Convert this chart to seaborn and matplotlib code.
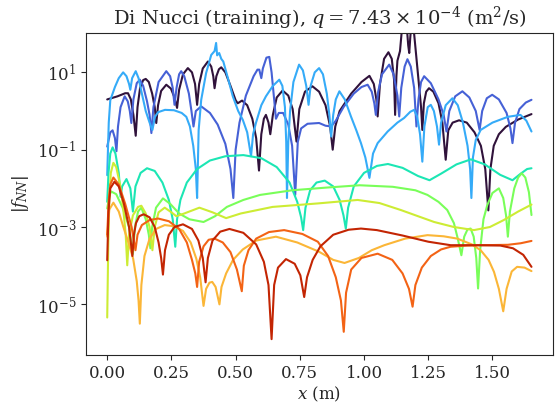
#%% Imports

import numpy as np
import pandas as pd
import matplotlib as mpl
import matplotlib.pyplot as plt
import seaborn as sns

#%% Data (x in m, log10 |f_NN|)

x_c0 = [0.000, 0.040, 0.070, 0.081, 0.092, 0.102, 0.111, 0.118, 0.128, 0.140, 0.150, 0.162, 0.175, 0.185,
        0.191, 0.198, 0.210, 0.230, 0.248, 0.262, 0.272, 0.280, 0.295, 0.314, 0.330, 0.342, 0.350, 0.358,
        0.372, 0.392, 0.405, 0.413, 0.418, 0.425, 0.435, 0.444, 0.460, 0.480, 0.500, 0.508, 0.525, 0.545,
        0.565, 0.580, 0.591, 0.600, 0.610, 0.618, 0.628, 0.635, 0.645, 0.660, 0.683, 0.705, 0.722, 0.737,
        0.748, 0.770, 0.799, 0.825, 0.850, 0.868, 0.878, 0.888, 0.905, 0.950, 0.990, 1.021, 1.038, 1.048,
        1.053, 1.062, 1.078, 1.095, 1.108, 1.117, 1.121, 1.126, 1.130, 1.140, 1.150, 1.165, 1.172, 1.176,
        1.180, 1.185, 1.195, 1.205, 1.215, 1.222, 1.227, 1.233, 1.242, 1.253, 1.270, 1.290, 1.305, 1.318,
        1.328, 1.345, 1.370, 1.400, 1.430, 1.455, 1.472, 1.484, 1.492, 1.505, 1.525, 1.552, 1.600, 1.652]
l_c0 = [0.30, 0.38, 0.46, 0.46, 0.30, -0.10, -0.64, 0.10, 0.60, 0.80, 0.83, 0.75, 0.45, 0.10,
        -0.31, 0.15, 0.52, 0.68, 0.58, 0.35, 0.08, 0.55, 0.95, 1.11, 1.00, 0.70, 0.16, 0.70,
        1.10, 1.28, 1.15, 0.90, 0.59, 0.90, 1.08, 1.13, 1.00, 0.65, 0.28, 0.20, 0.27, 0.15,
        -0.20, -0.70, -1.54, -0.60, -0.20, -0.10, -0.30, -0.60, -0.10, 0.35, 0.53, 0.40, 0.05, -0.79,
        0.05, 0.50, 0.64, 0.50, 0.15, -0.40, -1.00, -0.40, 0.00, 0.45, 0.75, 0.91, 0.70, 0.30,
        -0.14, 0.70, 1.35, 1.52, 1.35, 0.80, -0.10, 0.90, 1.30, 1.55, 2.30, 2.30, 1.70, 1.50,
        1.90, 2.30, 2.00, 1.30, 0.60, 0.10, -0.49, 0.20, 0.50, 0.59, 0.50, 0.20, -0.30, -1.26,
        -0.50, -0.30, -0.24, -0.30, -0.55, -0.90, -1.50, -2.57, -1.50, -0.90, -0.60, -0.41, -0.22, -0.08]

x_c1 = [0.000, 0.012, 0.021, 0.030, 0.036, 0.042, 0.052, 0.068, 0.080, 0.088, 0.094, 0.102, 0.115, 0.127,
        0.140, 0.155, 0.165, 0.172, 0.180, 0.200, 0.230, 0.245, 0.255, 0.262, 0.270, 0.280, 0.288, 0.300,
        0.318, 0.328, 0.336, 0.345, 0.366, 0.400, 0.430, 0.460, 0.480, 0.491, 0.500, 0.515, 0.540, 0.570,
        0.585, 0.592, 0.600, 0.606, 0.620, 0.631, 0.640, 0.650, 0.657, 0.668, 0.685, 0.705, 0.720, 0.732,
        0.742, 0.755, 0.780, 0.825, 0.850, 0.872, 0.890, 0.920, 0.960, 0.990, 1.014, 1.030, 1.040, 1.046,
        1.055, 1.070, 1.098, 1.115, 1.130, 1.137, 1.145, 1.158, 1.169, 1.182, 1.195, 1.204, 1.212, 1.222,
        1.234, 1.260, 1.290, 1.310, 1.321, 1.332, 1.355, 1.383, 1.410, 1.435, 1.450, 1.460, 1.478, 1.499,
        1.525, 1.555, 1.570, 1.578, 1.588, 1.605, 1.630, 1.652]
l_c1 = [-0.92, -0.55, -0.50, -0.70, -1.04, -0.40, 0.10, 0.38, 0.25, 0.00, -0.31, 0.30, 0.72, 0.81,
        0.65, 0.25, -0.10, -0.57, 0.10, 0.75, 1.03, 0.90, 0.60, 0.16, 0.60, 0.95, 1.03, 0.90,
        0.45, 0.00, -0.40, 0.00, 0.12, -0.05, -0.35, -0.85, -1.50, -2.25, -1.00, -0.30, 0.40, 0.90,
        1.07, 1.07, 0.85, 1.10, 1.38, 1.40, 1.00, 0.30, -0.20, -0.05, -0.05, -0.35, -0.90, -2.17,
        -0.80, -0.45, -0.33, -0.31, -0.38, -0.40, -0.25, 0.10, 0.45, 0.62, 0.68, 0.50, 0.20, -0.10,
        0.50, 0.95, 1.20, 0.95, 0.40, -0.14, 0.60, 1.15, 1.34, 1.15, 0.60, -0.40, 0.30, 0.75,
        0.90, 0.72, 0.30, -0.10, -0.53, 0.00, 0.38, 0.51, 0.35, 0.00, -0.49, 0.00, 0.33, 0.42,
        0.30, -0.05, -0.45, -0.83, -0.30, 0.05, 0.22, 0.29]

x_c2 = [0.000, 0.006, 0.012, 0.030, 0.045, 0.062, 0.075, 0.085, 0.090, 0.097, 0.111, 0.122, 0.135, 0.150,
        0.165, 0.176, 0.186, 0.198, 0.225, 0.260, 0.290, 0.308, 0.322, 0.335, 0.345, 0.350, 0.356, 0.366,
        0.385, 0.405, 0.418, 0.424, 0.428, 0.436, 0.444, 0.452, 0.470, 0.489, 0.510, 0.528, 0.545, 0.560,
        0.568, 0.579, 0.600, 0.618, 0.645, 0.670, 0.682, 0.692, 0.697, 0.700, 0.705, 0.712, 0.725, 0.747,
        0.762, 0.775, 0.784, 0.792, 0.808, 0.825, 0.840, 0.855, 0.865, 0.872, 0.880, 0.890, 0.904, 0.925,
        0.949, 0.970, 0.988, 1.005, 1.021, 1.035, 1.053, 1.092, 1.130, 1.156, 1.180, 1.195, 1.207, 1.218,
        1.227, 1.235, 1.248, 1.260, 1.272, 1.284, 1.292, 1.300, 1.318, 1.344, 1.365, 1.385, 1.403, 1.413,
        1.418, 1.424, 1.435, 1.454, 1.500, 1.560, 1.609, 1.632, 1.652]
l_c2 = [-1.66, -0.30, 0.28, 0.62, 0.85, 1.00, 0.90, 0.70, 0.55, 0.85, 1.03, 0.85, 0.45, 0.00,
        -0.30, -0.49, -0.15, -0.03, 0.03, 0.02, -0.05, -0.15, -0.40, -0.90, -1.50, -2.25, -0.50, 0.29,
        0.98, 1.45, 1.55, 1.76, 1.44, 1.50, 1.35, 1.28, 0.85, 0.38, 0.00, -0.23, -0.55, -1.17,
        -0.60, -0.31, 0.15, 0.38, 0.65, 0.81, 0.65, 0.10, -0.80, -2.25, -0.80, 0.00, 0.75, 1.20,
        1.05, 0.65, 0.16, 0.65, 1.00, 1.11, 0.95, 0.45, -0.10, -0.66, -0.10, 0.30, 0.51, 0.30,
        -0.14, -0.50, -0.83, -1.20, -1.73, -1.10, -0.83, -0.53, -0.30, -0.18, -0.02, 0.03, -0.15, -0.60,
        -1.31, -0.40, 0.10, 0.16, 0.00, -0.40, -0.87, -0.30, 0.15, 0.33, 0.15, -0.30, -0.90, -1.50,
        -2.25, -1.20, -0.75, -0.49, -0.30, -0.15, -0.10, -0.25, -0.53]

x_c3 = [0.000, 0.005, 0.012, 0.021, 0.032, 0.045, 0.052, 0.058, 0.075, 0.090, 0.100, 0.110, 0.130, 0.155,
        0.185, 0.215, 0.240, 0.255, 0.265, 0.272, 0.285, 0.310, 0.350, 0.400, 0.460, 0.530, 0.600, 0.660,
        0.710, 0.740, 0.755, 0.763, 0.772, 0.790, 0.815, 0.847, 0.880, 0.905, 0.920, 0.929, 0.938, 0.960,
        1.000, 1.050, 1.093, 1.150, 1.210, 1.255, 1.300, 1.360, 1.416, 1.470, 1.530, 1.578, 1.610, 1.635,
        1.652]
l_c3 = [-2.35, -1.60, -1.10, -0.94, -1.10, -1.60, -2.22, -1.95, -1.76, -2.00, -2.60, -1.95, -1.60, -1.48,
        -1.55, -1.85, -2.30, -2.80, -3.51, -2.80, -2.30, -1.85, -1.50, -1.28, -1.17, -1.14, -1.22, -1.45,
        -1.85, -2.35, -2.75, -3.08, -2.50, -2.05, -1.85, -1.80, -1.95, -2.30, -2.70, -3.04, -2.50, -1.95,
        -1.60, -1.42, -1.37, -1.47, -1.68, -1.79, -1.62, -1.38, -1.25, -1.38, -1.65, -1.79, -1.62, -1.50,
        -1.48]

x_c4 = [0.000, 0.008, 0.015, 0.035, 0.060, 0.085, 0.100, 0.108, 0.120, 0.133, 0.150, 0.162, 0.168, 0.175,
        0.190, 0.217, 0.245, 0.280, 0.320, 0.375, 0.420, 0.466, 0.530, 0.595, 0.720, 0.854, 0.983, 1.112,
        1.200, 1.247, 1.290, 1.324, 1.350, 1.365, 1.379, 1.390, 1.403, 1.415, 1.427, 1.437, 1.444, 1.452,
        1.465, 1.480, 1.500, 1.525, 1.542, 1.553, 1.560, 1.568, 1.585, 1.600, 1.614, 1.628, 1.642, 1.652]
l_c4 = [-2.52, -2.20, -2.08, -2.15, -2.50, -3.00, -3.70, -3.00, -2.60, -2.50, -2.80, -3.20, -3.55, -3.00,
        -2.50, -2.26, -2.40, -2.65, -2.80, -2.87, -2.72, -2.48, -2.30, -2.17, -2.05, -1.98, -1.92, -1.96,
        -2.05, -2.17, -2.35, -2.56, -2.90, -3.30, -3.73, -3.25, -3.06, -3.04, -3.25, -3.80, -4.59, -3.60,
        -2.80, -2.43, -2.12, -2.00, -2.25, -2.70, -3.25, -2.60, -2.00, -1.72, -1.61, -1.72, -2.10, -2.69]

x_c5 = [0.000, 0.004, 0.008, 0.014, 0.024, 0.035, 0.050, 0.062, 0.072, 0.078, 0.085, 0.100, 0.120, 0.133,
        0.150, 0.165, 0.176, 0.185, 0.200, 0.224, 0.250, 0.269, 0.300, 0.359, 0.410, 0.463, 0.520, 0.644,
        0.820, 0.975, 1.060, 1.143, 1.210, 1.273, 1.350, 1.428, 1.490, 1.544, 1.600, 1.652]
l_c5 = [-5.34, -3.50, -2.30, -1.60, -1.34, -1.45, -1.90, -2.50, -3.20, -3.99, -3.20, -2.70, -2.48, -2.45,
        -2.65, -3.00, -3.60, -3.00, -2.62, -2.50, -2.62, -2.72, -2.65, -2.50, -2.62, -2.77, -2.65, -2.48,
        -2.39, -2.30, -2.38, -2.56, -2.72, -2.87, -3.00, -3.08, -3.00, -2.82, -2.60, -2.42]

x_c6 = [0.000, 0.008, 0.024, 0.045, 0.062, 0.085, 0.101, 0.115, 0.122, 0.127, 0.133, 0.145, 0.165, 0.190,
        0.224, 0.260, 0.295, 0.325, 0.347, 0.362, 0.375, 0.385, 0.398, 0.409, 0.422, 0.437, 0.445, 0.463,
        0.490, 0.528, 0.580, 0.657, 0.740, 0.825, 0.880, 0.924, 0.980, 1.030, 1.079, 1.160, 1.247, 1.310,
        1.363, 1.420, 1.454, 1.485, 1.506, 1.525, 1.542, 1.555, 1.575, 1.596, 1.625, 1.652]
l_c6 = [-3.25, -2.55, -2.37, -2.60, -2.98, -3.45, -3.82, -4.40, -4.90, -5.50, -4.50, -3.75, -3.30, -3.05,
        -2.95, -2.98, -3.10, -3.40, -3.82, -4.30, -5.04, -4.60, -4.44, -4.42, -4.55, -5.00, -4.55, -4.20,
        -3.85, -3.58, -3.35, -3.25, -3.40, -3.64, -3.85, -3.93, -3.80, -3.60, -3.47, -3.30, -3.21, -3.24,
        -3.30, -3.45, -3.60, -3.85, -4.16, -4.60, -5.18, -4.60, -4.15, -4.03, -4.05, -4.14]

x_c7 = [0.000, 0.006, 0.012, 0.024, 0.045, 0.070, 0.095, 0.110, 0.118, 0.135, 0.165, 0.198, 0.240, 0.280,
        0.310, 0.330, 0.343, 0.350, 0.358, 0.375, 0.395, 0.418, 0.450, 0.480, 0.505, 0.524, 0.532, 0.550,
        0.580, 0.630, 0.689, 0.760, 0.820, 0.860, 0.890, 0.910, 0.921, 0.930, 0.950, 0.990, 1.053, 1.110,
        1.150, 1.175, 1.189, 1.200, 1.225, 1.260, 1.300, 1.337, 1.400, 1.467, 1.560, 1.610, 1.652]
l_c7 = [-3.20, -2.30, -1.90, -1.72, -1.90, -2.40, -3.00, -3.60, -3.20, -2.95, -2.82, -2.78, -2.85, -3.05,
        -3.40, -3.85, -4.20, -4.55, -3.90, -3.50, -3.33, -3.30, -3.40, -3.65, -4.10, -4.66, -4.00, -3.60,
        -3.30, -3.13, -3.08, -3.18, -3.38, -3.75, -4.30, -4.90, -5.71, -4.70, -4.10, -3.80, -3.69, -3.85,
        -4.20, -4.60, -5.06, -4.50, -4.05, -3.75, -3.58, -3.51, -3.48, -3.47, -3.46, -3.42, -3.36]

x_c8 = [0.000, 0.005, 0.012, 0.028, 0.045, 0.065, 0.085, 0.098, 0.104, 0.112, 0.125, 0.142, 0.165, 0.185,
        0.200, 0.210, 0.217, 0.225, 0.240, 0.262, 0.295, 0.330, 0.355, 0.372, 0.383, 0.392, 0.410, 0.440,
        0.476, 0.530, 0.580, 0.610, 0.628, 0.640, 0.650, 0.665, 0.696, 0.730, 0.752, 0.767, 0.778, 0.800,
        0.830, 0.880, 0.940, 0.988, 1.050, 1.150, 1.250, 1.337, 1.450, 1.531, 1.580, 1.620, 1.652]
l_c8 = [-3.86, -2.60, -2.00, -1.83, -1.95, -2.40, -3.00, -3.75, -3.20, -2.90, -2.72, -2.67, -2.75, -3.00,
        -3.40, -3.80, -4.23, -3.60, -3.20, -3.00, -2.93, -3.05, -3.35, -3.80, -4.43, -3.80, -3.35, -3.12,
        -3.05, -3.15, -3.45, -3.90, -4.50, -5.90, -4.50, -4.05, -3.83, -3.95, -4.25, -4.81, -4.30, -3.85,
        -3.50, -3.20, -3.07, -3.04, -3.08, -3.22, -3.38, -3.47, -3.47, -3.48, -3.55, -3.72, -4.03]

xs = [x_c0, x_c1, x_c2, x_c3, x_c4, x_c5, x_c6, x_c7, x_c8]
ls = [l_c0, l_c1, l_c2, l_c3, l_c4, l_c5, l_c6, l_c7, l_c8]

#%% Style

sns.set_style('ticks')
plt.rcParams['font.family'] = ['DejaVu Serif']
plt.rcParams['mathtext.fontset'] = 'dejavuserif'
plt.rcParams['font.size'] = 12

colors = mpl.colormaps['turbo'](np.linspace(0, 0.9, len(xs)))

#%% Plot

fig = plt.figure(figsize=(5.57, 4.03), dpi=100)
ax = fig.add_axes([86/557, 48/403, 466.7/557, 321.7/403])

for i, (x, l) in enumerate(zip(xs, ls)):
    df = pd.DataFrame({'x': x, 'f': 10**np.array(l)})
    sns.lineplot(data=df, x='x', y='f', color=colors[i], linewidth=1.5,
                 estimator=None, sort=False, ax=ax)

ax.set_yscale('log')
ax.set_ylim(10**-6.31, 10**2.01)
ax.yaxis.set_major_locator(mpl.ticker.FixedLocator([1e1, 1e-1, 1e-3, 1e-5]))
ax.yaxis.set_minor_locator(mpl.ticker.NullLocator())
ax.set_xticks([0, 0.25, 0.5, 0.75, 1.0, 1.25, 1.5])
ax.xaxis.set_major_formatter(mpl.ticker.StrMethodFormatter('{x:.2f}'))
ax.tick_params(labelsize=12)
ax.set_xlabel('$x$ (m)', fontsize=12, labelpad=2)
ax.set_ylabel('$|f_{NN}|$', fontsize=12)
ax.set_title(r'Di Nucci (training), $q = 7.43 \times 10^{-4}$ (m$^2$/s)', fontsize=14)

fig.savefig('out.png', dpi=100)
